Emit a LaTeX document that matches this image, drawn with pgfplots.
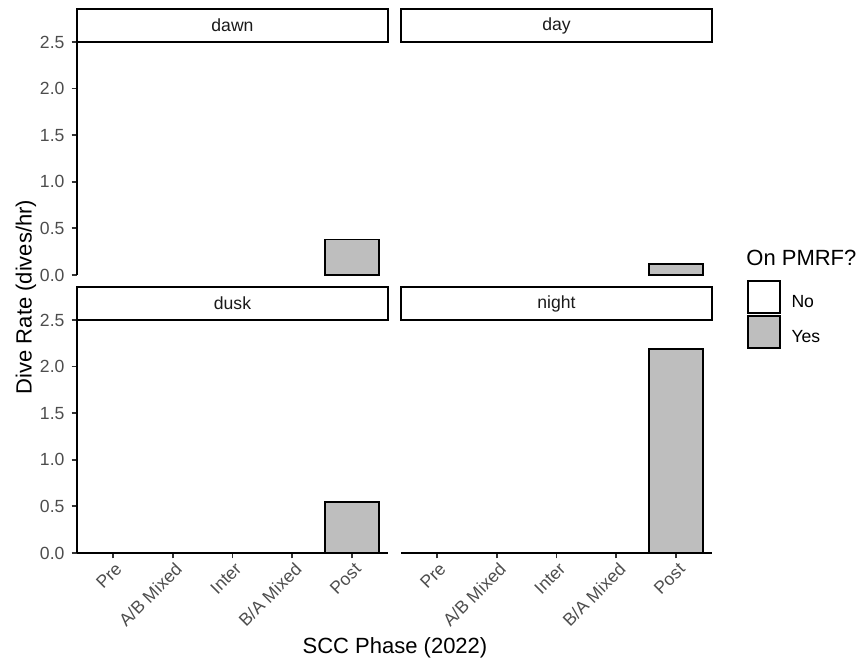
\documentclass[border=0pt]{standalone}
\usepackage{fontspec}
\setmainfont{Liberation Sans}
\usepackage{pgfplots}
\pgfplotsset{compat=1.18}
\definecolor{bargray}{HTML}{BEBEBE}
\definecolor{grey30}{HTML}{4D4D4D}
\definecolor{grey20}{HTML}{333333}
\definecolor{grey10}{HTML}{1A1A1A}

\pgfplotsset{
  panel/.style={
    scale only axis, width=155.5pt, height=116.5pt,
    anchor=south west, clip=false,
    xmin=0.4, xmax=5.6, ymin=0, ymax=2.5,
    ybar, bar width=0.9, bar shift=0pt,
    xtick={1,2,3,4,5},
    xticklabels={Pre, A/B Mixed, Inter, B/A Mixed, Post},
    ytick={0,0.5,1,1.5,2,2.5},
    yticklabel style={/pgf/number format/.cd, fixed, fixed zerofill, precision=1, assume math mode=true},
    tick label style={font=\fontsize{8.8}{10}\selectfont, text=grey30},
    xticklabel style={rotate=45, anchor=north east, inner sep=1.5pt, xshift=1pt},
    tick align=outside, major tick length=2.75pt,
    tick style={line width=0.9pt, grey20},
    axis line style={-, line width=0.9pt, black},
    axis x line*=bottom, axis y line*=left,
  },
  bars/.style={forget plot, draw=black, line width=0.9pt, fill=bargray},
}
\newcommand{\strip}[1]{%
  \draw[line width=1.1pt, fill=white] (rel axis cs:0,1) rectangle ([yshift=16.5pt]rel axis cs:1,1);
  \node[font=\fontsize{8.8}{10}\selectfont, text=grey10] at ([yshift=8.25pt]rel axis cs:0.5,1) {#1};
}

\begin{document}
\begin{tikzpicture}
\useasboundingbox (0,0) rectangle (431.5pt,332pt);

% dawn (top left)
\begin{axis}[panel, at={(38.5pt,194.5pt)}, axis x line=none, xtick=\empty]
  \addplot[bars] coordinates {(5,0.38)};
  \strip{dawn}
\end{axis}

% day (top right)
\begin{axis}[panel, at={(200.5pt,194.5pt)}, axis x line=none, axis y line=none, xtick=\empty, ytick=\empty,
  legend style={draw=none, fill=none, inner sep=0pt, at={(axis description cs:1.111,-0.02)}, anchor=north west,
    row sep=0.6pt, nodes={inner xsep=5.2pt, inner ysep=0pt, text=black, font=\fontsize{8.8}{10}\selectfont}},
  legend cell align=left]
  \addplot[bars] coordinates {(5,0.115)};
  \addlegendimage{legend image code/.code={\draw[line width=0.9pt, draw=black, fill=white] (0pt,-5.2pt) rectangle (16.2pt,10.8pt);}}
  \addlegendentry{No}
  \addlegendimage{legend image code/.code={\draw[line width=0.9pt, draw=black, fill=bargray] (0pt,-5.2pt) rectangle (16.2pt,10.8pt);}}
  \addlegendentry{Yes}
  \strip{day}
\end{axis}

% dusk (bottom left)
\begin{axis}[panel, at={(38.5pt,55.5pt)}]
  \addplot[bars] coordinates {(5,0.55)};
  \strip{dusk}
\end{axis}

% night (bottom right)
\begin{axis}[panel, at={(200.5pt,55.5pt)}, axis y line=none, ytick=\empty]
  \addplot[bars] coordinates {(5,2.19)};
  \strip{night}
\end{axis}

\node[font=\fontsize{11}{13}\selectfont, rotate=90] at (13pt,183.5pt) {Dive Rate (dives/hr)};
\node[font=\fontsize{11}{13}\selectfont] at (197.5pt,8pt) {SCC Phase (2022)};
\node[font=\fontsize{11}{13}\selectfont, anchor=west, inner sep=0pt] at (373pt,203pt) {On PMRF?};
\end{tikzpicture}
\end{document}
